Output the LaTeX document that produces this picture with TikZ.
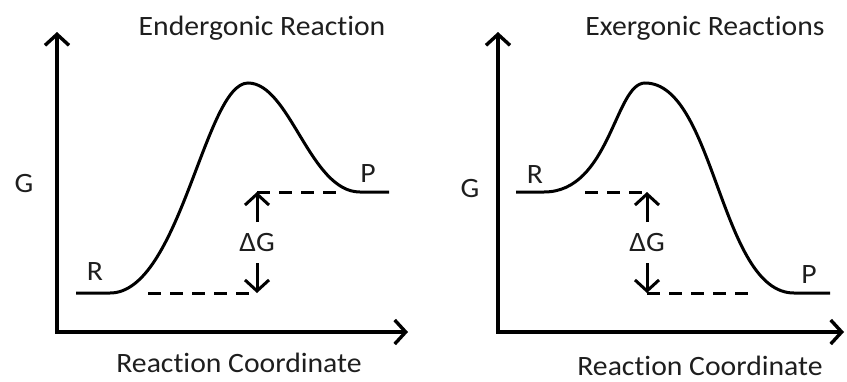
\documentclass[tikz,border=0pt]{standalone}
\usepackage{fontspec}
\setmainfont[FakeStretch=1.06, Ligatures=NoCommon]{Carlito}
\usetikzlibrary{arrows.meta}
\definecolor{txt}{RGB}{30,30,30}
\begin{document}
\begin{tikzpicture}[x=1pt,y=-1pt,
  lbl/.style={font=\fontsize{28}{32}\selectfont, text=txt, anchor=base, inner sep=0pt},
  axis/.style={line width=3.4pt, {Straight Barb[length=11pt,width=24pt]}-{Straight Barb[length=11pt,width=24pt]}},
  curve/.style={line width=3pt},
  dline/.style={line width=3pt, dash pattern=on 13pt off 9pt},
  dgarrow/.style={line width=3pt, -{Straight Barb[length=11pt,width=24pt]}}
]
\useasboundingbox (0,0) rectangle (847,381);

% ---------- Left panel: endergonic ----------
\node[lbl] (t1) at (262,35.5) {Endergonic Reaction};
\node[lbl] (x1) at (239,372) {Reaction Coordinate};
\node[lbl] (g1) at (24,192) {G};
\node[lbl] (rl1) at (95,280) {R};
\node[lbl] (pl1) at (368,182) {P};
\node[lbl] (dg1) at (257,251) {ΔG};

\coordinate (yt1) at (57,32);
\coordinate (o1) at (57,332);
\coordinate (xt1) at (408,332);
\draw[axis] (yt1) -- (o1) -- (xt1);

\coordinate (ra1) at (76,293);
\coordinate (rb1) at (110,293);
\coordinate (pk1) at (248,83);
\coordinate (pa1) at (360,192);
\coordinate (pb1) at (389,192);
\draw[curve] (ra1) -- (rb1) .. controls (180,293) and (205,83) .. (pk1)
  .. controls (290,83) and (310,192) .. (pa1) -- (pb1);

\coordinate (da1) at (148,293);
\coordinate (db1) at (257,293);
\coordinate (dc1) at (257,192);
\coordinate (dd1) at (340,192);
\draw[dline] (da1) -- (db1);
\draw[dline] (dc1) -- (dd1);
\coordinate (au1) at (257,222);
\coordinate (ad1) at (257,263);
\draw[dgarrow] (au1) -- (dc1);
\draw[dgarrow] (ad1) -- (db1);

% ---------- Right panel: exergonic ----------
\node[lbl] (t2) at (705,35.5) {Exergonic Reactions};
\node[lbl, text depth=0pt] (x2) at (700,375.5) {Reaction Coordinate};
\node[lbl] (g2) at (470,197) {G};
\node[lbl] (rl2) at (535,183) {R};
\node[lbl] (pl2) at (809,283) {P};
\node[lbl] (dg2) at (647,251) {ΔG};

\coordinate (yt2) at (498,32);
\coordinate (o2) at (498,332);
\coordinate (xt2) at (844,332);
\draw[axis] (yt2) -- (o2) -- (xt2);

\coordinate (ra2) at (516,192);
\coordinate (rb2) at (544,192);
\coordinate (pk2) at (645,83);
\coordinate (pa2) at (794,293);
\coordinate (pb2) at (830,293);
\draw[curve] (ra2) -- (rb2) .. controls (610,192) and (615,83) .. (pk2)
  .. controls (715,83) and (720,293) .. (pa2) -- (pb2);

\coordinate (da2) at (585,192);
\coordinate (db2) at (647,192);
\coordinate (dc2) at (647,293);
\coordinate (dd2) at (757,293);
\draw[dline] (da2) -- (db2);
\draw[dline] (dc2) -- (dd2);
\coordinate (au2) at (647,222);
\coordinate (ad2) at (647,263);
\draw[dgarrow] (au2) -- (db2);
\draw[dgarrow] (ad2) -- (dc2);
\end{tikzpicture}
\end{document}
